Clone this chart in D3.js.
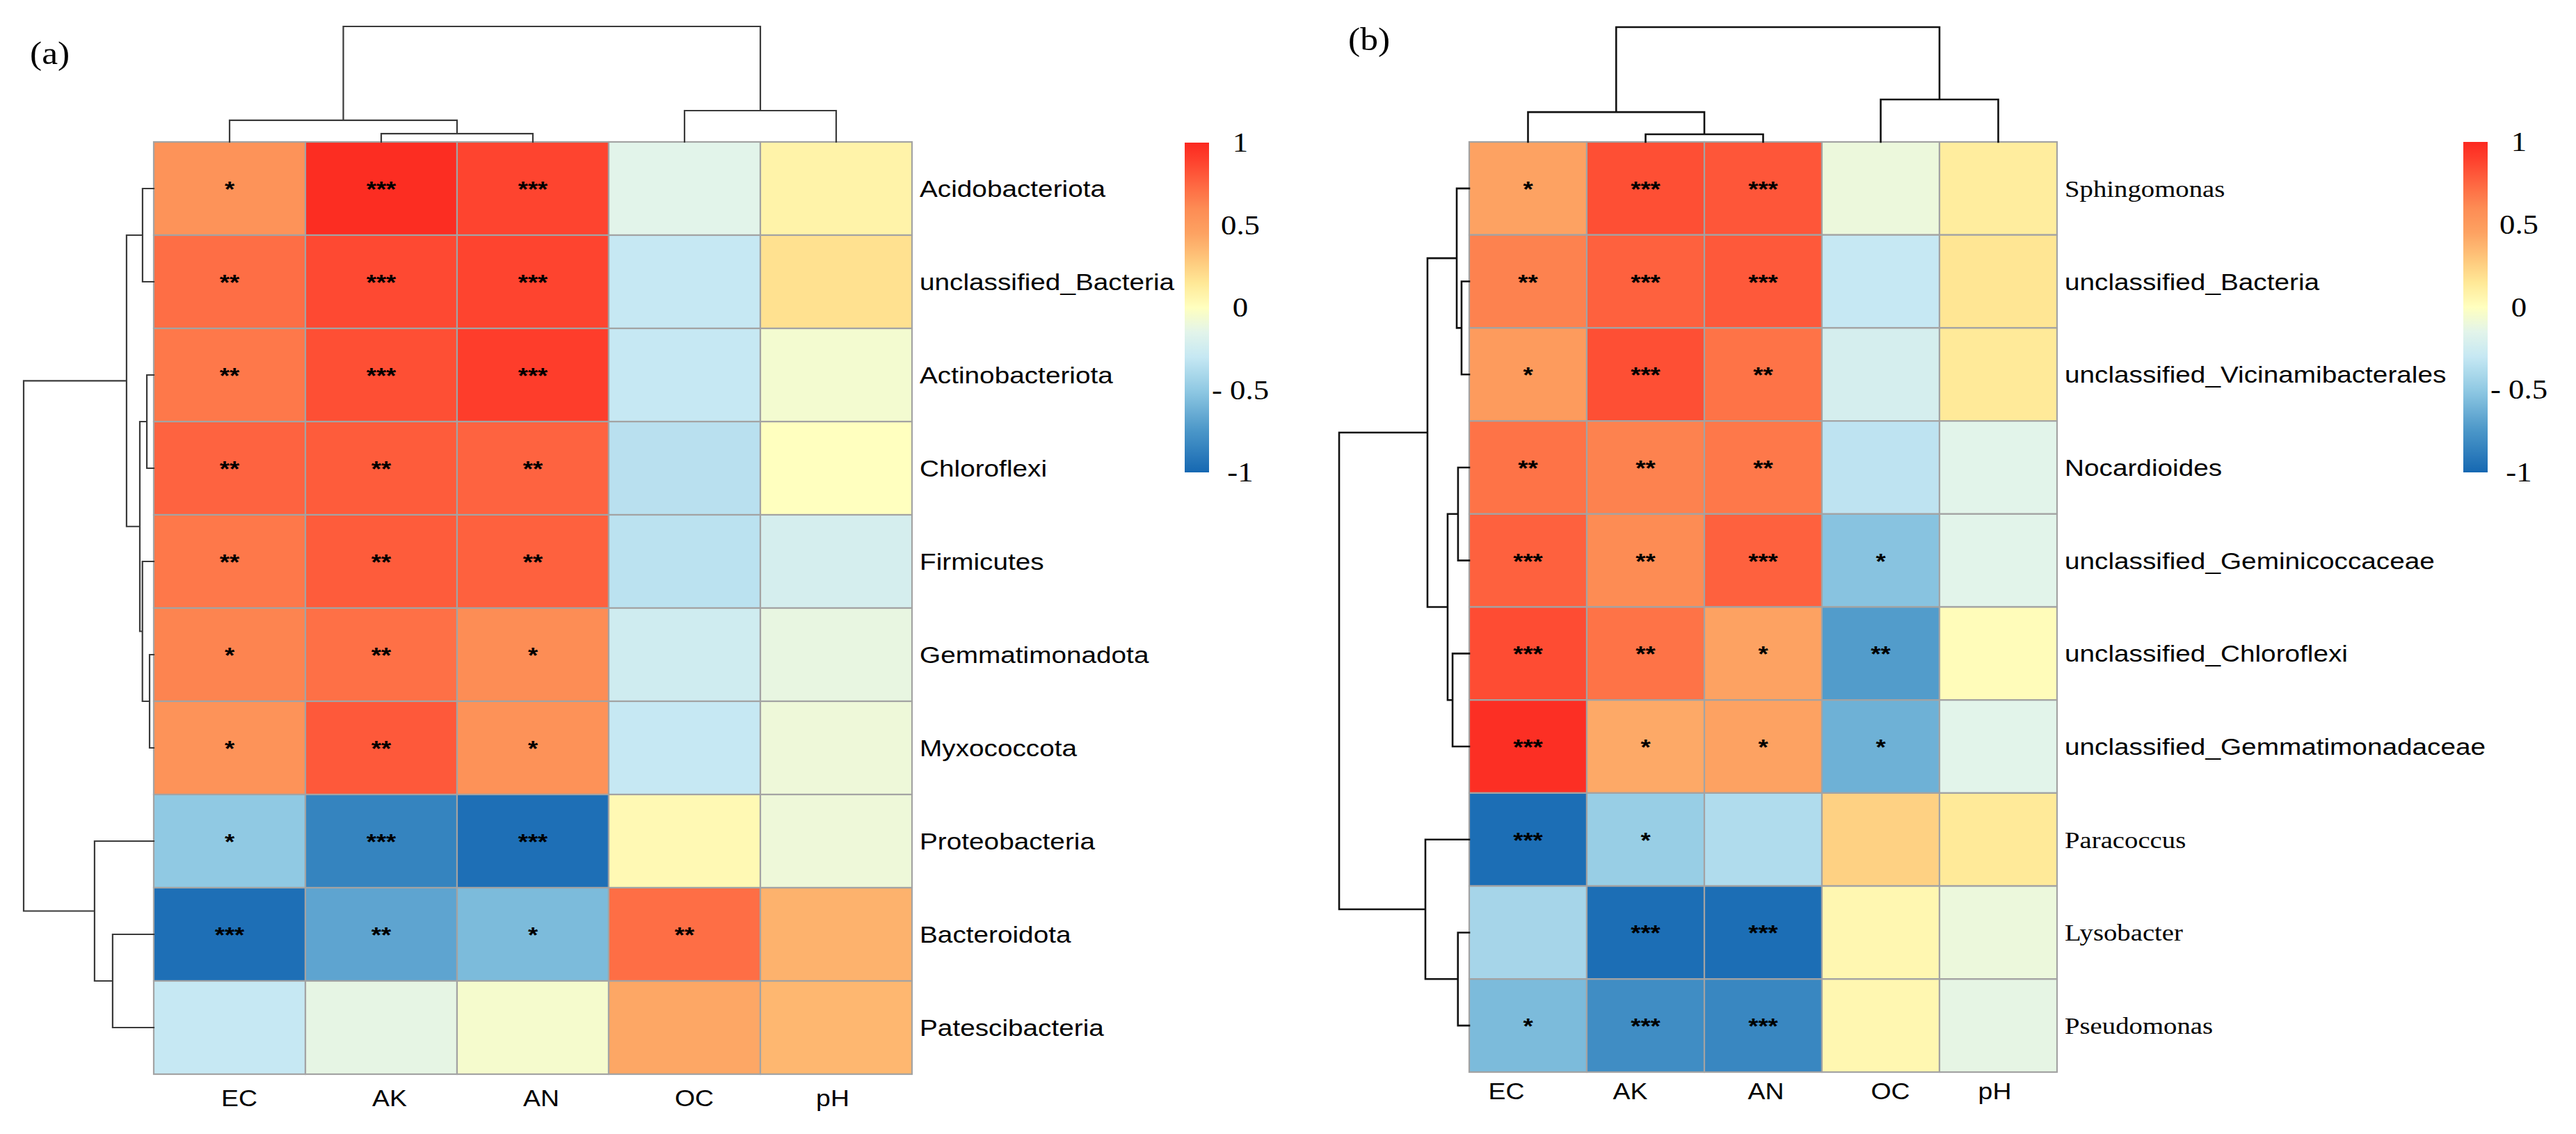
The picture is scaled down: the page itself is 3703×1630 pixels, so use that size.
<!DOCTYPE html>
<html>
<head>
<meta charset="utf-8">
<script src="https://cdn.jsdelivr.net/npm/d3@7"></script>
<style>
  html, body { margin: 0; padding: 0; background: #fff; }
  svg { display: block; }
</style>
</head>
<body>
<svg id="chart" width="3703" height="1630"></svg>
<script>
// ---- data: panel (a), phyla ----
const colsA = ["EC", "AK", "AN", "OC", "pH"];
const rowsA = ["Acidobacteriota", "unclassified_Bacteria", "Actinobacteriota", "Chloroflexi",
    "Firmicutes", "Gemmatimonadota", "Myxococcota", "Proteobacteria", "Bacteroidota", "Patescibacteria"];
const valuesA = [
    [0.55, 0.98, 0.88, -0.15, 0.08],
    [0.72, 0.86, 0.88, -0.30, 0.18],
    [0.68, 0.84, 0.91, -0.30, -0.06],
    [0.76, 0.79, 0.76, -0.35, 0.00],
    [0.68, 0.79, 0.77, -0.34, -0.22],
    [0.63, 0.71, 0.59, -0.25, -0.12],
    [0.55, 0.80, 0.56, -0.30, -0.09],
    [-0.50, -0.85, -0.96, 0.04, -0.09],
    [-0.96, -0.68, -0.57, 0.72, 0.38],
    [-0.30, -0.13, -0.05, 0.43, 0.36]
];
const starsA = [
    ["*", "***", "***", "", ""],
    ["**", "***", "***", "", ""],
    ["**", "***", "***", "", ""],
    ["**", "**", "**", "", ""],
    ["**", "**", "**", "", ""],
    ["*", "**", "*", "", ""],
    ["*", "**", "*", "", ""],
    ["*", "***", "***", "", ""],
    ["***", "**", "*", "**", ""],
    ["", "", "", "", ""]
];
// hclust style merges (negative = leaf index, 1-based) and merge heights (relative)
const rowMergeA = [[-6, -7], [-3, -4], [-1, -2], [-5, 1], [2, 4], [3, 5], [-9, -10], [-8, 7], [6, 8]];
const rowHeightA = [0.032, 0.053, 0.086, 0.087, 0.107, 0.209, 0.316, 0.455, 1.0];
const colMergeA = [[-2, -3], [-1, 1], [-4, -5], [2, 3]];
const colHeightA = [0.072, 0.187, 0.271, 1.0];

// ---- data: panel (b), genera ----
const colsB = ["EC", "AK", "AN", "OC", "pH"];
const rowsB = ["Sphingomonas", "unclassified_Bacteria", "unclassified_Vicinamibacterales", "Nocardioides",
    "unclassified_Geminicoccaceae", "unclassified_Chloroflexi", "unclassified_Gemmatimonadaceae",
    "Paracoccus", "Lysobacter", "Pseudomonas"];
const valuesB = [
    [0.45, 0.84, 0.81, -0.10, 0.12],
    [0.64, 0.77, 0.80, -0.30, 0.16],
    [0.50, 0.84, 0.70, -0.22, 0.14],
    [0.70, 0.64, 0.68, -0.33, -0.15],
    [0.77, 0.60, 0.77, -0.53, -0.15],
    [0.85, 0.70, 0.45, -0.72, 0.02],
    [0.97, 0.42, 0.45, -0.62, -0.15],
    [-0.97, -0.47, -0.38, 0.25, 0.14],
    [-0.42, -0.97, -0.97, 0.05, -0.10],
    [-0.57, -0.80, -0.83, 0.05, -0.13]
];
const starsB = [
    ["*", "***", "***", "", ""],
    ["**", "***", "***", "", ""],
    ["*", "***", "**", "", ""],
    ["**", "**", "**", "", ""],
    ["***", "**", "***", "*", ""],
    ["***", "**", "*", "**", ""],
    ["***", "*", "*", "*", ""],
    ["***", "*", "", "", ""],
    ["", "***", "***", "", ""],
    ["*", "***", "***", "", ""]
];
const rowMergeB = [[-2, -3], [-4, -5], [-9, -10], [-1, 1], [-6, -7], [2, 5], [4, 6], [-8, 3], [7, 8]];
const rowHeightB = [0.059, 0.086, 0.087, 0.096, 0.128, 0.166, 0.321, 0.337, 1.0];
const colMergeB = [[-2, -3], [-1, 1], [-4, -5], [2, 3]];
const colHeightB = [0.067, 0.26, 0.37, 1.0];
const serifRowsB = new Set(["Sphingomonas", "Paracoccus", "Lysobacter", "Pseudomonas"]);

// ---- colour scale and legend ----
const colorStops = [-1, -0.75, -0.5, -0.3, -0.15, 0, 0.15, 0.3, 0.45, 0.6, 0.75, 0.9, 1];
const colorHex = ["#1668b2", "#4a96c8", "#90c9e3", "#c6e8f3", "#e2f4ea", "#ffffbf", "#ffe896",
    "#fec57a", "#fda262", "#fd8c54", "#fe6641", "#fe3f2c", "#fb2820"];
const legendTicks = [1, 0.5, 0, -0.5, -1];
const legendTickLabels = ["1", "0.5", "0", "- 0.5", "-1"];

const color = d3.scaleLinear().domain(colorStops).range(colorHex).interpolate(d3.interpolateRgb);

const SANS = "'Liberation Sans', Arial, sans-serif";
const SERIF = "'Liberation Serif', 'Times New Roman', serif";
const STRETCH = 1.14;

const svg = d3.select('#chart');
svg.append('rect').attr('width', 3703).attr('height', 1630).attr('fill', '#fff');

// gradient shared by both colour bars
const grad = svg.append('defs').append('linearGradient')
    .attr('id', 'legendGrad')
    .attr('x1', 0).attr('y1', 0).attr('x2', 0).attr('y2', 1);
d3.range(0, 41).forEach(i => {
    const v = 1 - i / 20;
    grad.append('stop').attr('offset', (i / 40 * 100) + '%').attr('stop-color', color(v));
});

function stretchedText(g, x, y, str, opts) {
    return g.append('text')
        .attr('transform', `translate(${x},${y}) scale(${opts.sx || STRETCH},1)`)
        .attr('font-family', opts.font || SANS)
        .attr('font-size', opts.size)
        .attr('font-weight', opts.weight || 'normal')
        .attr('text-anchor', opts.anchor || 'start')
        .attr('fill', '#000')
        .text(str);
}

/**
 * Draw a dendrogram from an hclust style merge list
 */
function drawDendro(g, merge, heights, leafPos, hScale, orient, style) {
    const nodes = [];
    const get = id => id < 0 ? { p: leafPos(-id - 1), h: 0 } : nodes[id - 1];
    let d = '';
    merge.forEach((m, i) => {
        const a = get(m[0]);
        const b = get(m[1]);
        const h = heights[i];
        nodes.push({ p: (a.p + b.p) / 2, h });
        if (orient === 'top') {
            d += `M${a.p},${hScale(a.h)}V${hScale(h)}H${b.p}V${hScale(b.h)}`;
        } else {
            d += `M${hScale(a.h)},${a.p}H${hScale(h)}V${b.p}H${hScale(b.h)}`;
        }
    });
    g.append('path')
        .attr('d', d)
        .attr('fill', 'none')
        .attr('stroke', style.color)
        .attr('stroke-width', style.width)
        .attr('stroke-linejoin', 'miter')
        .attr('stroke-linecap', 'square');
}

function drawPanel(p) {
    const g = svg.append('g');
    const x = d3.scaleBand().domain(p.cols).range([p.x0, p.x0 + p.cw * p.cols.length]);
    const y = d3.scaleBand().domain(p.rows).range([p.y0, p.y0 + p.rh * p.rows.length]);

    const cells = [];
    p.values.forEach((row, i) => row.forEach((v, j) => {
        cells.push({ r: p.rows[i], c: p.cols[j], v, s: p.stars[i][j] });
    }));

    g.append('g').selectAll('rect')
        .data(cells)
        .join('rect')
        .attr('x', d => x(d.c))
        .attr('y', d => y(d.r))
        .attr('width', x.bandwidth())
        .attr('height', y.bandwidth())
        .attr('fill', d => color(d.v))
        .attr('stroke', '#a3a3a3')
        .attr('stroke-width', 2.2);

    const starG = g.append('g');
    cells.filter(d => d.s).forEach(d => {
        stretchedText(starG, x(d.c) + x.bandwidth() / 2, y(d.r) + y.bandwidth() / 2 + 12, d.s,
            { size: 32, weight: 'bold', anchor: 'middle' });
    });

    // row labels
    const rowLabelG = g.append('g');
    p.rows.forEach(r => {
        stretchedText(rowLabelG, x.range()[1] + 11, y(r) + y.bandwidth() / 2 + 12, r,
            { size: 34, font: p.serifRows && p.serifRows.has(r) ? SERIF : SANS });
    });

    // column labels (hand placed in the original, so a small nudge per column)
    const colLabelG = g.append('g');
    p.cols.forEach((c, j) => {
        stretchedText(colLabelG, x(c) + x.bandwidth() / 2 + p.colLabelNudge[j], p.colLabelY, c,
            { size: 34, anchor: 'middle', sx: 1.1 });
    });

    // dendrograms
    const style = { color: p.dendroColor, width: p.dendroWidth };
    const topScale = d3.scaleLinear().domain([0, 1]).range([p.y0, p.y0 - p.topDepth]);
    drawDendro(g, p.colMerge, p.colHeight, i => x(p.cols[i]) + x.bandwidth() / 2, topScale, 'top', style);
    const leftScale = d3.scaleLinear().domain([0, 1]).range([p.x0, p.x0 - p.leftDepth]);
    drawDendro(g, p.rowMerge, p.rowHeight, i => y(p.rows[i]) + y.bandwidth() / 2, leftScale, 'left', style);

    // colour bar
    const ly = d3.scaleLinear().domain([1, -1]).range([p.legendTop, p.legendBottom]);
    g.append('rect')
        .attr('x', p.legendX)
        .attr('y', ly(1))
        .attr('width', 35)
        .attr('height', ly(-1) - ly(1))
        .attr('fill', 'url(#legendGrad)');
    const tickG = g.append('g');
    legendTicks.forEach((t, i) => {
        stretchedText(tickG, p.legendX + 80, ly(t) + 13, legendTickLabels[i],
            { size: 40, font: SERIF, anchor: 'middle', sx: 1.12 });
    });

    // panel tag
    stretchedText(g, p.tagX, p.tagY, p.tag, { size: 46, font: SERIF, sx: 1.12 });
}

drawPanel({
    cols: colsA, rows: rowsA, values: valuesA, stars: starsA,
    rowMerge: rowMergeA, rowHeight: rowHeightA, colMerge: colMergeA, colHeight: colHeightA,
    x0: 221, y0: 204, cw: 218, rh: 134,
    topDepth: 166, leftDepth: 187,
    dendroColor: '#3a3a3a', dendroWidth: 2.2,
    colLabelY: 1590, colLabelNudge: [14, 12, 12, 14, -5],
    legendX: 1703, legendTop: 205, legendBottom: 679,
    tag: '(a)', tagX: 43, tagY: 92
});

drawPanel({
    cols: colsB, rows: rowsB, values: valuesB, stars: starsB, serifRows: serifRowsB,
    rowMerge: rowMergeB, rowHeight: rowHeightB, colMerge: colMergeB, colHeight: colHeightB,
    x0: 2112, y0: 204, cw: 169, rh: 133.7,
    topDepth: 165, leftDepth: 187,
    dendroColor: '#111', dendroWidth: 2.6,
    colLabelY: 1580, colLabelNudge: [-31, -22, 4, 14, -5],
    legendX: 3541, legendTop: 204, legendBottom: 679,
    tag: '(b)', tagX: 1938, tagY: 72
});
</script>
</body>
</html>
